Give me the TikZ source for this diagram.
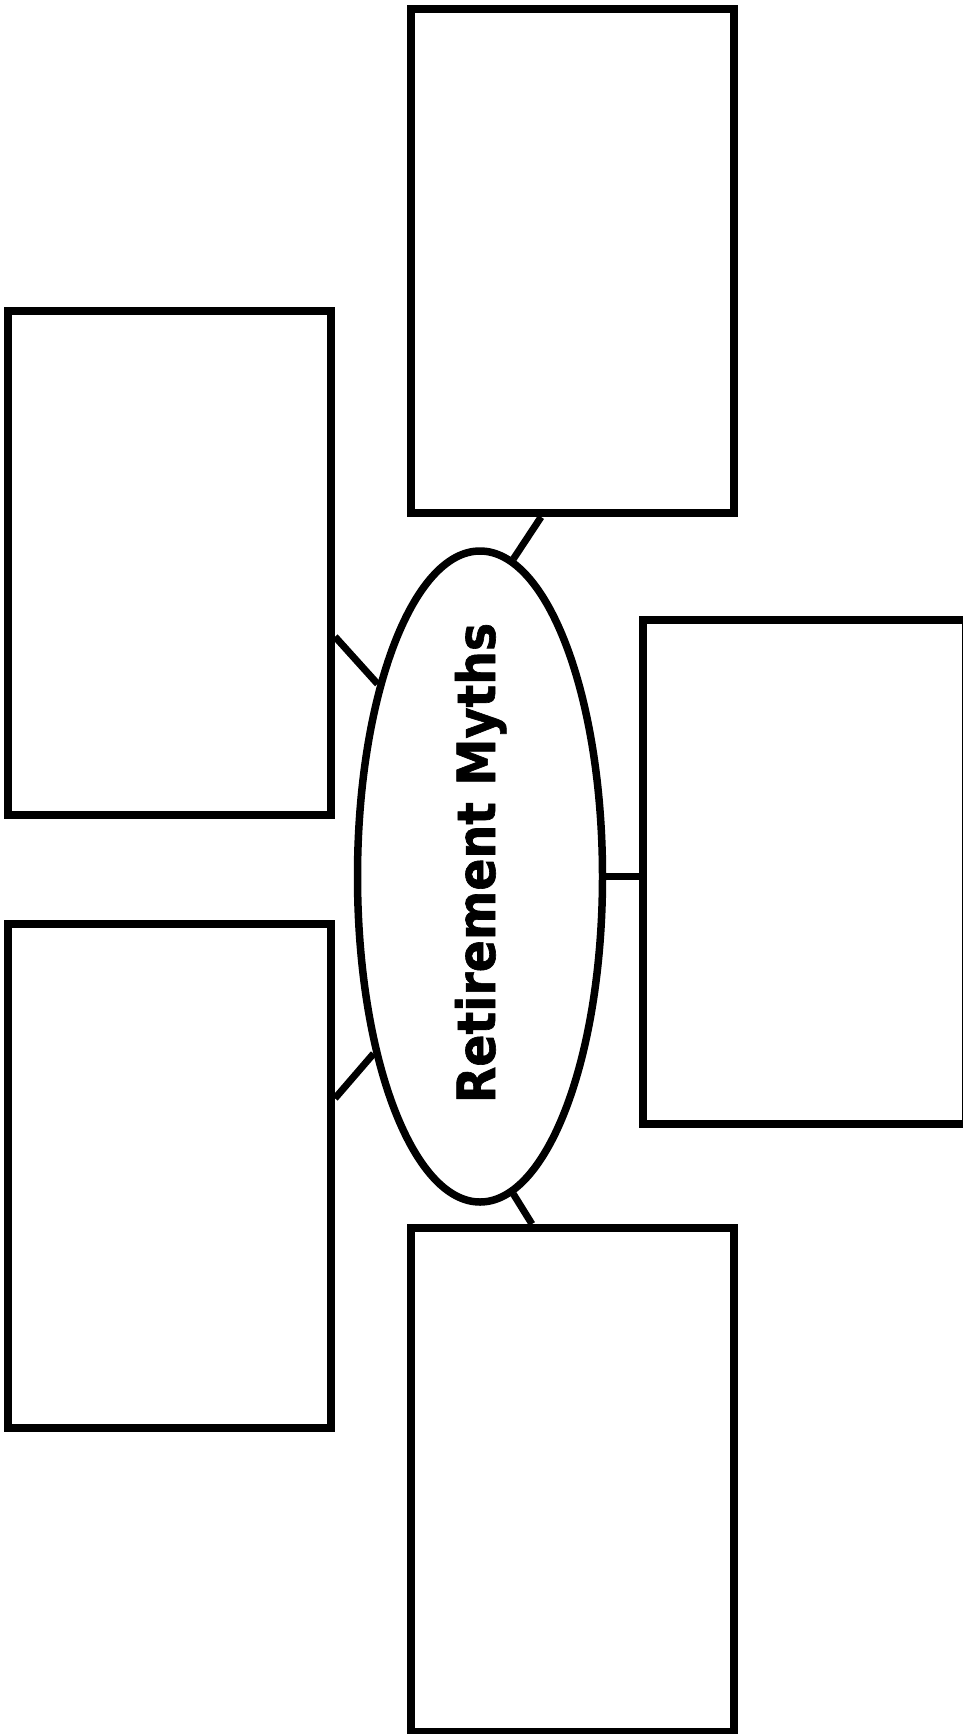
\documentclass[tikz,border=0pt]{standalone}
\usepackage{fontspec}
\newfontfamily\mythfont{DejaVu Sans Condensed}[BoldFeatures={FakeBold=1.2}]
\usetikzlibrary{shapes.geometric}

\begin{document}
\begin{tikzpicture}[x=1pt,y=-1pt,
    kotak/.style={draw,line width=8pt,minimum width=323pt,minimum height=504pt,inner sep=0pt},
    hub/.style={draw,ellipse,line width=7.5pt,minimum width=245pt,minimum height=651pt,inner sep=0pt},
    garis/.style={line width=7pt}]
  \useasboundingbox (0,0) rectangle (963,1734);

  \node[kotak] (atas)     at (572.5,261)    {};
  \node[kotak] (kiriatas) at (169.5,563)    {};
  \node[kotak] (kiribawah) at (169.5,1175.5) {};
  \node[kotak] (kanan)    at (804,871.5)    {};
  \node[kotak] (bawah)    at (572.5,1480)   {};
  \node[hub]   (pusat)    at (480,876.5)    {};

  \draw[garis] (atas.-97.3)     -- (pusat.84.3);
  \draw[garis] (kiriatas.-24.5) -- (pusat.118.5);
  \draw[garis] (kiribawah.25.8) -- (pusat.-121.9);
  \draw[garis] (bawah.99.6)     -- (pusat.-84);
  \draw[garis] (pusat.east)     -- (pusat.east -| kanan.west);

  \node[rotate=90,anchor=base,inner sep=0pt] (judul) at (495,863)
    {\mythfont\bfseries\fontsize{52.7}{60}\selectfont Retirement Myths};
\end{tikzpicture}
\end{document}
